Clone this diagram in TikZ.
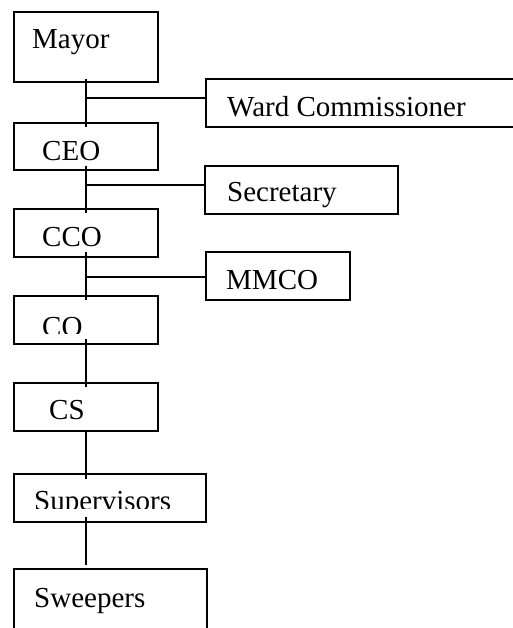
\documentclass[tikz,border=0pt]{standalone}
\usepackage{fontspec}
\setmainfont{Liberation Serif}
\begin{document}
\begin{tikzpicture}[x=1pt,y=-1pt,
  box/.style={draw, line width=1.8pt, inner sep=0pt, outer sep=0pt, rectangle},
  link/.style={line width=1.5pt},
  lbl/.style={anchor=base west, inner sep=0pt, font=\fontsize{29}{31}\selectfont}]
\clip (0,0) rectangle (513,628);
\fill[white] (0,0) rectangle (513,628);
% boxes
\node[box, minimum width=144pt, minimum height=70pt] (mayor) at (86,47) {};
\node[box, minimum width=334pt, minimum height=48pt] (ward) at (373,103) {};
\node[box, minimum width=144pt, minimum height=47pt] (ceo) at (86,146.5) {};
\node[box, minimum width=193pt, minimum height=48pt] (sec) at (301.5,190) {};
\node[box, minimum width=144pt, minimum height=48pt] (cco) at (86,233) {};
\node[box, minimum width=144pt, minimum height=48pt] (mmco) at (278,276) {};
\node[box, minimum width=144pt, minimum height=48pt] (co) at (86,320) {};
\node[box, minimum width=144pt, minimum height=48pt] (cs) at (86,407) {};
\node[box, minimum width=192pt, minimum height=48pt] (sup) at (110,498) {};
\node[box, minimum width=193pt, minimum height=81pt] (swp) at (110.5,609.5) {};
% texts
\node[lbl] (tmayor) at (32,49) {Mayor};
\node[lbl] (tward) at (227,117) {Ward Commissioner};
\node[lbl] (tceo) at (42,161) {CEO};
\node[lbl] (tsec) at (227,202) {Secretary};
\node[lbl] (tcco) at (42,246) {CCO};
\node[lbl] (tmmco) at (226,289) {MMCO};
\begin{scope}
\clip (20,300) rectangle (150,333);
\node[lbl] (tco) at (42,336) {CO};
\end{scope}
\node[lbl] (tcs) at (49,419) {CS};
\begin{scope}
\clip (20,480) rectangle (200,508.5);
\node[lbl] (tsup) at (34,510) {Supervisors};
\end{scope}
\node[lbl] (tswp) at (34,607) {Sweepers};
% connectors
\draw[link, shorten <=-3pt, shorten >=-4pt] (mayor.south) -- (ceo.north);
\draw[link, shorten <=-4pt, shorten >=-4pt] (ceo.south) -- (cco.north);
\draw[link, shorten <=-5pt, shorten >=-4pt] (cco.south) -- (co.north);
\draw[link, shorten <=-5pt, shorten >=-4pt] (co.south) -- (cs.north);
\draw[link, shorten >=-5pt] (cs.south) -- (cs.south |- sup.north);
\draw[link, shorten <=-5pt, shorten >=4pt] (sup.south -| cs.south) -- (swp.north -| cs.south);
\coordinate (b1) at (86,98);
\coordinate (b2) at (86,185);
\coordinate (b3) at (86,277);
\draw[link] (b1) -- (b1 -| ward.west);
\draw[link] (b2) -- (b2 -| sec.west);
\draw[link, line width=1.2pt] (b3) -- (b3 -| mmco.west);
\end{tikzpicture}
\end{document}
